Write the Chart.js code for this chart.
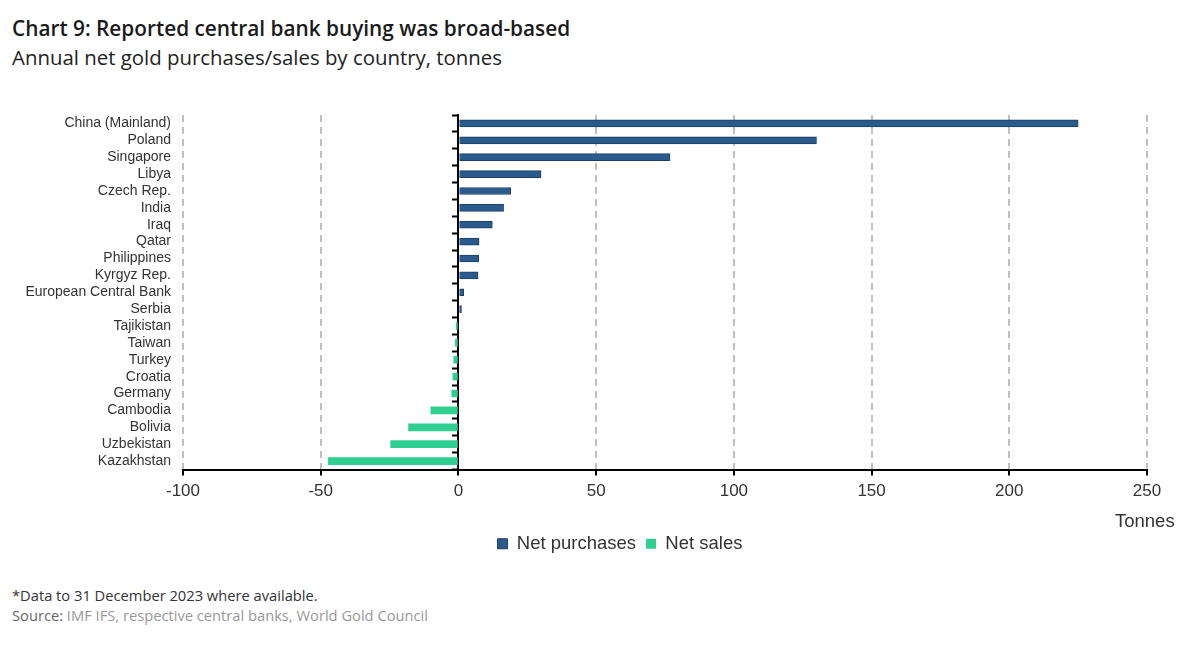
<!DOCTYPE html>
<html>
<head>
<meta charset="utf-8">
<script src="https://cdn.jsdelivr.net/npm/chart.js@4.4.1/dist/chart.umd.min.js"></script>
<style>
  body { margin: 0; background: #fff; width: 1200px; height: 649px; position: relative; overflow: hidden; }
  .titre { position: absolute; left: 12px; top: 15px; font-family: 'Open Sans', sans-serif; font-weight: 600; font-size: 20.8px; color: #1a1a1a; line-height: 27px; white-space: nowrap; }
  .sous-titre { position: absolute; left: 12px; top: 44px; font-family: 'Open Sans', sans-serif; font-weight: 400; font-size: 20.4px; color: #222; line-height: 27px; white-space: nowrap; }
  #zone { position: absolute; left: 0; top: 90px; width: 1200px; height: 473px; }
  .unite { position: absolute; left: 1115px; top: 510px; font-family: 'Liberation Sans', Arial, sans-serif; font-size: 18.5px; color: #333; }
  .note { position: absolute; left: 12px; font-family: 'Open Sans', sans-serif; font-size: 14.7px; color: #333; white-space: nowrap; }
  .note span { color: #999; }
</style>
</head>
<body>
<div class="titre">Chart 9: Reported central bank buying was broad-based</div>
<div class="sous-titre">Annual net gold purchases/sales by country, tonnes</div>
<div id="zone"><canvas id="graficoOuro"></canvas></div>
<div class="unite">Tonnes</div>
<div class="note" style="top:585px">*Data to 31 December 2023 where available.</div>
<div class="note" style="top:605px; color:#666">Source: <span>IMF IFS, respective central banks, World Gold Council</span></div>

<script>
// Dados do gráfico (toneladas)
var paises = ['China (Mainland)', 'Poland', 'Singapore', 'Libya', 'Czech Rep.', 'India', 'Iraq', 'Qatar',
    'Philippines', 'Kyrgyz Rep.', 'European Central Bank', 'Serbia', 'Tajikistan', 'Taiwan', 'Turkey',
    'Croatia', 'Germany', 'Cambodia', 'Bolivia', 'Uzbekistan', 'Kazakhstan'];
var compras = [225, 130, 76.8, 30, 19, 16.4, 12.3, 7.5, 7.4, 7.1, 1.9, 1.1, null, null, null, null, null, null, null, null, null];
var vendas = [null, null, null, null, null, null, null, null, null, null, null, null, -0.8, -1.1, -1.7, -2, -2.4, -10, -18.1, -24.6, -47.2];
var ticksX = [-100, -50, 0, 50, 100, 150, 200, 250];

document.addEventListener('DOMContentLoaded', function() {
    Chart.defaults.font.family = "'Liberation Sans', Arial, sans-serif";
    Chart.defaults.color = '#333';
    Chart.defaults.animation = false;

    var ctx = document.getElementById('graficoOuro');
    new Chart(ctx.getContext('2d'), {
        type: 'bar',
        data: {
            labels: paises,
            datasets: [{
                label: 'Net purchases',
                data: compras,
                backgroundColor: '#2b5b8c',
                borderColor: '#1b3f66',
                borderWidth: 1,
                barThickness: 7
            }, {
                label: 'Net sales',
                data: vendas,
                backgroundColor: '#2ecf91',
                borderColor: '#2ecf91',
                borderWidth: 0,
                barThickness: 7
            }]
        },
        options: {
            indexAxis: 'y',
            responsive: true,
            maintainAspectRatio: false,
            // padding direito negativo para centrar a legenda como no original
            layout: { padding: { left: 0, right: -40, top: 25, bottom: 0 } },
            scales: {
                x: {
                    stacked: true,
                    min: ticksX[0],
                    max: ticksX[ticksX.length - 1],
                    afterBuildTicks: function(scale) {
                        scale.ticks = ticksX.map(function(v) { return { value: v }; });
                    },
                    afterFit: function(scale) { scale.height = 55; },
                    ticks: { font: { size: 17 }, color: '#333', padding: 6 },
                    grid: {
                        color: function(c) { return c.tick && c.tick.value === 0 ? 'rgba(0,0,0,0)' : '#c0c0c0'; },
                        lineWidth: 2,
                        tickColor: '#000',
                        tickWidth: 2,
                        tickLength: 6
                    },
                    border: { color: '#000', width: 2, dash: [7, 5] }
                },
                y: {
                    stacked: true,
                    afterFit: function(scale) { scale.width = 183; },
                    ticks: { font: { size: 14 }, color: '#333', padding: 4, autoSkip: false },
                    grid: { display: false },
                    border: { display: false }
                },
                margemDireita: {
                    type: 'linear',
                    axis: 'y',
                    position: 'right',
                    afterFit: function(scale) { scale.width = 93; },
                    ticks: { display: false },
                    grid: { display: false },
                    border: { display: false }
                },
                eixoZero: {
                    type: 'category',
                    axis: 'y',
                    position: { x: 0 },
                    offset: true,
                    ticks: { display: false },
                    grid: { offset: true, drawOnChartArea: false, tickLength: 5, tickColor: '#000', tickWidth: 2 },
                    border: { color: '#000', width: 2 }
                }
            },
            plugins: {
                legend: {
                    position: 'bottom',
                    labels: { font: { size: 18.5 }, color: '#333', boxWidth: 10, boxHeight: 10, padding: 10 }
                },
                tooltip: { enabled: false }
            }
        }
    });
});
</script>
</body>
</html>
